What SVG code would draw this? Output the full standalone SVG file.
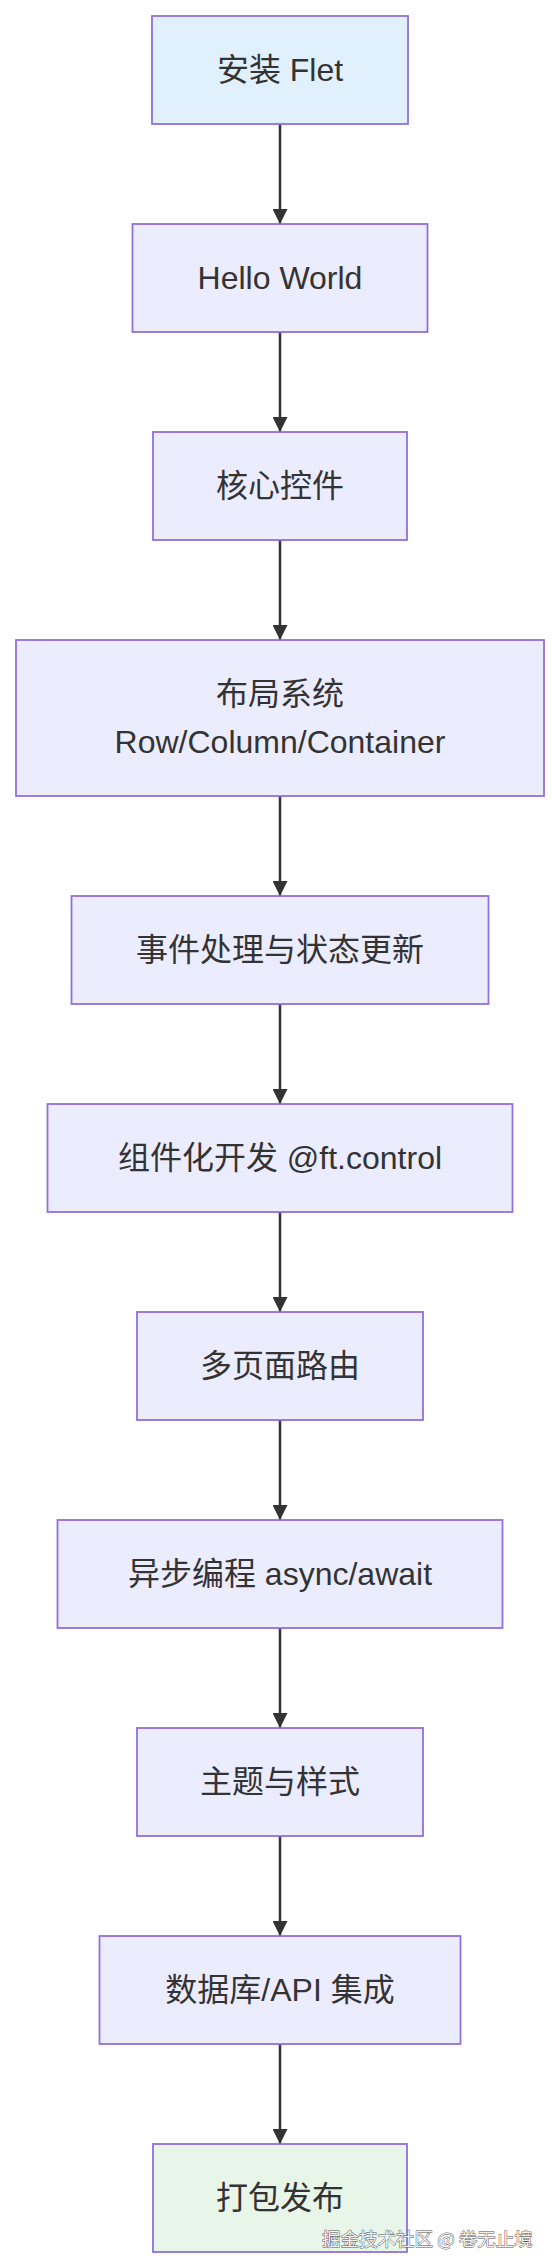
<svg xmlns="http://www.w3.org/2000/svg" width="552" height="2268" viewBox="0 0 552 2268">
<style>
.node rect{fill:#ECECFF;stroke:#9370DB;stroke-width:1.8}
.node text{font-family:"Liberation Sans","Noto Sans CJK SC",sans-serif;font-size:32px;fill:#333;text-anchor:middle;dominant-baseline:central}
#n1 rect{fill:#E1F0FD}
#n11 rect{fill:#E8F5E9}
.edge{stroke:#333;stroke-width:2.5;fill:none;marker-end:url(#arrow)}
.wm{font-family:"Noto Sans CJK SC",sans-serif;font-size:18.5px;fill:#f2f2f2;stroke:#555;stroke-width:0.9;paint-order:stroke}
</style>
<defs>
<marker id="arrow" markerUnits="userSpaceOnUse" markerWidth="16" markerHeight="15" refX="16" refY="8" orient="auto" viewBox="0 0 16 16">
<path d="M0,0 L16,8 L0,16 Z" fill="#333"/>
</marker>
</defs>
<rect width="552" height="2268" fill="#fff"/>
<g id="connectors">
<line class="edge" x1="280" y1="124" x2="280" y2="224"/>
<line class="edge" x1="280" y1="332" x2="280" y2="432"/>
<line class="edge" x1="280" y1="540" x2="280" y2="640"/>
<line class="edge" x1="280" y1="796" x2="280" y2="896"/>
<line class="edge" x1="280" y1="1004" x2="280" y2="1104"/>
<line class="edge" x1="280" y1="1212" x2="280" y2="1312"/>
<line class="edge" x1="280" y1="1420" x2="280" y2="1520"/>
<line class="edge" x1="280" y1="1628" x2="280" y2="1728"/>
<line class="edge" x1="280" y1="1836" x2="280" y2="1936"/>
<line class="edge" x1="280" y1="2044" x2="280" y2="2144"/>
</g>
<g id="n1" class="node"><rect x="152" y="16" width="256" height="108"/><text x="280" y="70">安装 Flet</text></g>
<g id="n2" class="node"><rect x="132.5" y="224" width="295" height="108"/><text x="280" y="278">Hello World</text></g>
<g id="n3" class="node"><rect x="153" y="432" width="254" height="108"/><text x="280" y="486">核心控件</text></g>
<g id="n4" class="node"><rect x="16" y="640" width="528" height="156"/><text x="280" y="694">布局系统</text><text x="280" y="742">Row/Column/Container</text></g>
<g id="n5" class="node"><rect x="71.5" y="896" width="417" height="108"/><text x="280" y="950">事件处理与状态更新</text></g>
<g id="n6" class="node"><rect x="47.5" y="1104" width="465" height="108"/><text x="280" y="1158">组件化开发 @ft.control</text></g>
<g id="n7" class="node"><rect x="137" y="1312" width="286" height="108"/><text x="280" y="1366">多页面路由</text></g>
<g id="n8" class="node"><rect x="57.5" y="1520" width="445" height="108"/><text x="280" y="1574">异步编程 async/await</text></g>
<g id="n9" class="node"><rect x="137" y="1728" width="286" height="108"/><text x="280" y="1782">主题与样式</text></g>
<g id="n10" class="node"><rect x="99.5" y="1936" width="361" height="108"/><text x="280" y="1990">数据库/API 集成</text></g>
<g id="n11" class="node"><rect x="153" y="2144" width="254" height="108"/><text x="280" y="2198">打包发布</text></g>
<text class="wm" x="322" y="2246">掘金技术社区 @ 卷无止境</text>
</svg>
